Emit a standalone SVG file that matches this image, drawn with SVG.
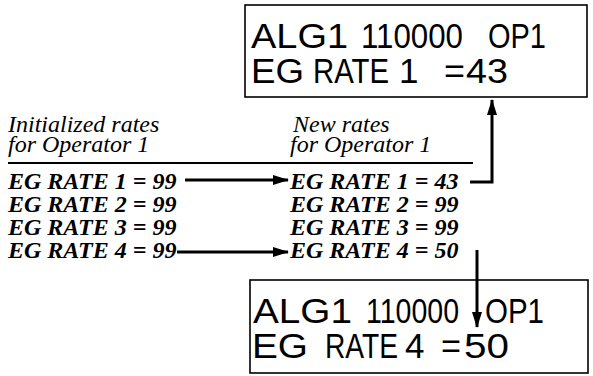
<svg xmlns="http://www.w3.org/2000/svg" width="593" height="376" viewBox="0 0 593 376">
<defs>
<style>
.lcd{font-family:"Liberation Sans",Arial,sans-serif;font-size:35px;fill:#000}
.hdr{font-family:"Liberation Serif","Times New Roman",serif;font-style:italic;font-size:24px;fill:#000}
.row{font-family:"Liberation Serif","Times New Roman",serif;font-style:italic;font-weight:bold;font-size:24px;fill:#000}
.box{fill:#fff;stroke:#000;stroke-width:1.6}
.wire{fill:none;stroke:#000;stroke-width:3}
</style>
<marker id="ah" markerWidth="16" markerHeight="10" refX="15" refY="5" orient="auto" markerUnits="userSpaceOnUse">
<path d="M0,0 L16,5 L0,10 Z" fill="#000"/>
</marker>
</defs>
<rect width="593" height="376" fill="#fff"/>
<g id="display-top">
<rect class="box" x="245" y="5" width="342" height="92"/>
<text class="lcd" x="251" y="48" textLength="97" lengthAdjust="spacingAndGlyphs">ALG1</text>
<text class="lcd" x="361" y="48" textLength="102" lengthAdjust="spacingAndGlyphs">110000</text>
<text class="lcd" x="488" y="48" textLength="58" lengthAdjust="spacingAndGlyphs">OP1</text>
<text class="lcd" x="251" y="83" textLength="53" lengthAdjust="spacingAndGlyphs">EG</text>
<text class="lcd" x="313" y="83" textLength="76" lengthAdjust="spacingAndGlyphs">RATE</text>
<text class="lcd" x="399" y="83">1</text>
<text class="lcd" x="444" y="83" textLength="21" lengthAdjust="spacingAndGlyphs">=</text>
<text class="lcd" x="466" y="83" textLength="42" lengthAdjust="spacingAndGlyphs">43</text>
</g>
<g id="display-bottom">
<rect class="box" x="250" y="280" width="338" height="93"/>
<text class="lcd" x="253" y="323" textLength="99" lengthAdjust="spacingAndGlyphs">ALG1</text>
<text class="lcd" x="366" y="323" textLength="93" lengthAdjust="spacingAndGlyphs">110000</text>
<text class="lcd" x="485" y="323" textLength="59" lengthAdjust="spacingAndGlyphs">OP1</text>
<text class="lcd" x="252" y="358" textLength="56" lengthAdjust="spacingAndGlyphs">EG</text>
<text class="lcd" x="325" y="358" textLength="73" lengthAdjust="spacingAndGlyphs">RATE</text>
<text class="lcd" x="405" y="358">4</text>
<text class="lcd" x="441" y="358" textLength="20" lengthAdjust="spacingAndGlyphs">=</text>
<text class="lcd" x="464" y="358" textLength="45" lengthAdjust="spacingAndGlyphs">50</text>
</g>
<g id="initialized">
<text class="hdr" x="8" y="132">Initialized rates</text>
<text class="hdr" x="8" y="152">for Operator 1</text>
<text class="row" x="8" y="189">EG RATE 1 = 99</text>
<text class="row" x="8" y="212">EG RATE 2 = 99</text>
<text class="row" x="8" y="235">EG RATE 3 = 99</text>
<text class="row" x="8" y="258">EG RATE 4 = 99</text>
</g>
<g id="new">
<text class="hdr" x="293" y="132">New rates</text>
<text class="hdr" x="290" y="152">for Operator 1</text>
<text class="row" x="290" y="189">EG RATE 1 = 43</text>
<text class="row" x="290" y="212">EG RATE 2 = 99</text>
<text class="row" x="290" y="235">EG RATE 3 = 99</text>
<text class="row" x="290" y="258">EG RATE 4 = 50</text>
</g>
<g id="connectors">
<line x1="8" y1="163" x2="473" y2="163" stroke="#000" stroke-width="2"/>
<line class="wire" x1="185" y1="180" x2="288" y2="180" marker-end="url(#ah)"/>
<line class="wire" x1="177" y1="252" x2="288" y2="252" marker-end="url(#ah)"/>
<polyline class="wire" points="470,182 492,182 492,100" marker-end="url(#ah)"/>
<line class="wire" x1="477" y1="250" x2="477" y2="327" marker-end="url(#ah)"/>
</g>
</svg>
